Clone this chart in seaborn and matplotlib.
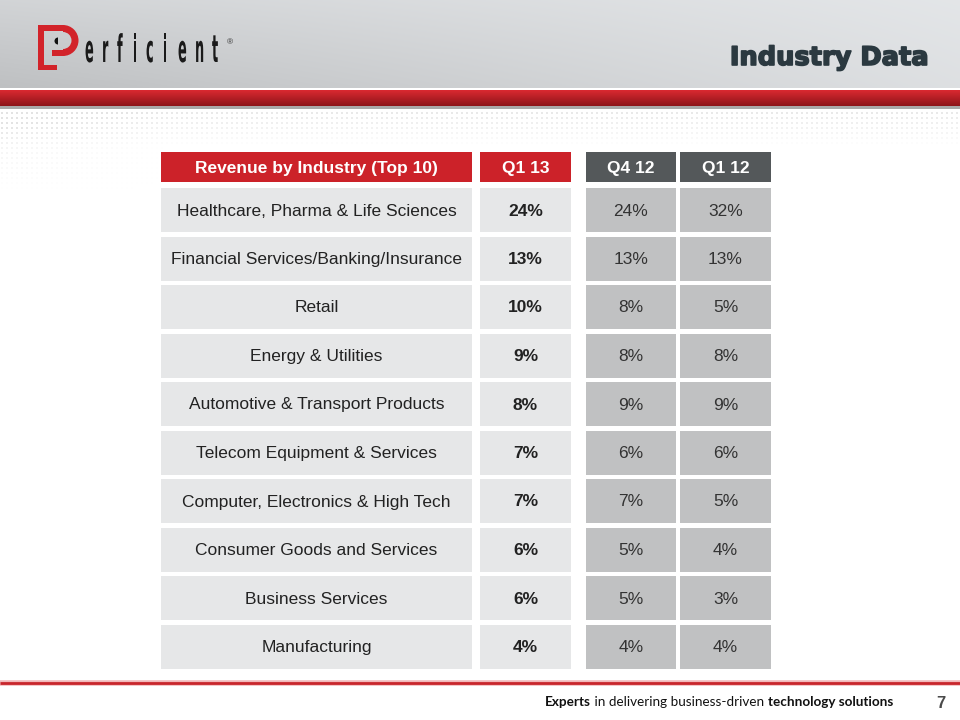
import numpy as np
import matplotlib.pyplot as plt
import seaborn as sns
from matplotlib.patches import Rectangle, Wedge, PathPatch
from matplotlib.textpath import TextPath
from matplotlib.font_manager import FontProperties
from matplotlib.transforms import Affine2D
import matplotlib.patheffects as pe

sns.set_theme(style="white")
plt.rcParams['font.family'] = ['Liberation Sans', 'DejaVu Sans']

# ---- data ----
industries = [
    "Healthcare, Pharma & Life Sciences",
    "Financial Services/Banking/Insurance",
    "Retail",
    "Energy & Utilities",
    "Automotive & Transport Products",
    "Telecom Equipment & Services",
    "Computer, Electronics & High Tech",
    "Consumer Goods and Services",
    "Business Services",
    "Manufacturing",
]
q1_13 = [24, 13, 10, 9, 8, 7, 7, 6, 6, 4]
q4_12 = [24, 13, 8, 8, 9, 6, 7, 5, 5, 4]
q1_12 = [32, 13, 5, 8, 9, 6, 5, 4, 3, 4]
col_headers = ["Revenue by Industry (Top 10)", "Q1 13", "Q4 12", "Q1 12"]

RED = "#cc2229"
DARK = "#54585a"
LIGHT = "#e6e7e8"
MID = "#c0c1c2"

fig = plt.figure(figsize=(9.6, 7.2), dpi=100)
ax = fig.add_axes([0, 0, 1, 1])
ax.set_xlim(0, 960)
ax.set_ylim(720, 0)
ax.axis('off')

# ---- slide header ----
yy, xx = np.mgrid[0:88, 0:960]
v = 0.84 + 0.07 * (xx / 960) - 0.08 * (yy / 88) * (1 - 0.7 * xx / 960)
bg = np.dstack([v * 0.98, v * 0.99, v * 1.0])
ax.imshow(np.clip(bg, 0, 1), extent=(0, 960, 88, 0), aspect='auto', zorder=0)

band = np.linspace(0, 1, 16)[:, None]
top_c = np.array([0.85, 0.16, 0.19])
bot_c = np.array([0.56, 0.08, 0.10])
red_band = (top_c[None, None, :] * (1 - band[..., None]) + bot_c[None, None, :] * band[..., None])
red_band = np.repeat(red_band, 2, axis=1)
ax.imshow(red_band, extent=(0, 960, 106, 90), aspect='auto', zorder=1)
ax.add_patch(Rectangle((0, 106), 960, 3, color="#a9a9a9", lw=0, zorder=1))

# dotted texture under the band
dx, dy = np.meshgrid(np.arange(2, 960, 5), np.arange(113, 190, 5))
alpha = np.clip(1 - (dy - 112) / 35, 0, 1) * 0.8 + np.clip(1 - dx / 170, 0, 1) * np.clip(1 - (dy - 112) / 80, 0, 1) * 0.6
rgba = np.zeros((dx.size, 4))
rgba[:, :3] = 0.68
rgba[:, 3] = np.clip(alpha.ravel(), 0, 1)
ax.scatter(dx.ravel(), dy.ravel(), s=0.9, c=rgba, lw=0, zorder=1)

# logo
ax.add_patch(Rectangle((38, 25), 6, 45, color="#d2232a", lw=0, zorder=3))
ax.add_patch(Rectangle((38, 65), 19, 5, color="#d2232a", lw=0, zorder=3))
ax.add_patch(Rectangle((44, 25), 20, 6, color="#d2232a", lw=0, zorder=3))
ax.add_patch(Rectangle((52, 50), 12, 6, color="#d2232a", lw=0, zorder=3))
ax.add_patch(Wedge((63, 40.5), 15.5, -90, 90, width=7, color="#d2232a", lw=0, zorder=3))
ax.add_patch(Wedge((58, 41), 3.5, 90, 270, color="#111111", lw=0, zorder=3))
logo_font = FontProperties(family='DejaVu Sans', weight='bold')
for ch, lx in zip("erficient", [85, 102, 117, 133, 146, 163, 178, 195, 212]):
    tp = TextPath((0, 0), ch, size=38, prop=logo_font)
    tr = Affine2D().scale(0.34, -1.0).translate(lx, 62)
    ax.add_patch(PathPatch(tr.transform_path(tp), color="#1a1a1a", lw=0, zorder=3))
ax.text(230, 43, "®", fontsize=6, color="#333333", ha='center', va='center', zorder=3)

ax.text(929, 58, "Industry Data", fontsize=18.5, fontweight='heavy', color="#2b3940",
        family='DejaVu Sans', ha='right', va='center', zorder=3,
        path_effects=[pe.withStroke(linewidth=1.2, foreground="#2b3940")])

# ---- table ----
col_left = [161, 480, 586, 680]
col_width = [311, 91, 90, 91]
head_top, head_h = 152, 30
row_top0, row_pitch, row_h = 188, 48.5, 44
row_centers = row_top0 + row_h / 2 + np.arange(len(industries)) * row_pitch
head_colors = [RED, RED, DARK, DARK]
body_colors = [LIGHT, LIGHT, MID, MID]

for j, header in enumerate(col_headers):
    ax.barh(head_top + head_h / 2, col_width[j], left=col_left[j], height=head_h,
            color=head_colors[j], lw=0, zorder=2)
    ax.text(col_left[j] + col_width[j] / 2, head_top + head_h / 2 + 1, header,
            color="white", fontsize=12.5, fontweight='bold', ha='center', va='center', zorder=3)
    ax.barh(row_centers, col_width[j], left=col_left[j], height=row_h,
            color=body_colors[j], lw=0, zorder=2)

columns = [q1_13, q4_12, q1_12]
for i, name in enumerate(industries):
    y = row_centers[i] + 1
    ax.text(col_left[0] + col_width[0] / 2, y, name, fontsize=12.5, color="#222222",
            ha='center', va='center', zorder=3)
    for j, vals in enumerate(columns, start=1):
        ax.text(col_left[j] + col_width[j] / 2, y, f"{vals[i]}%", fontsize=12.5,
                fontweight='bold' if j == 1 else 'normal',
                color="#222222" if j == 1 else "#333333",
                ha='center', va='center', zorder=3)

# ---- footer ----
ax.plot([0, 960], [683, 683], color="#f2b8ba", lw=4, solid_capstyle='butt', zorder=2)
ax.plot([0, 960], [683, 683], color="#c8262c", lw=2, solid_capstyle='butt', zorder=3)

pieces = [("Experts", 'bold'), (" in delivering business-driven ", 'normal'),
          ("technology solutions", 'bold')]
prev = ax.text(545, 706, pieces[0][0], fontsize=9.75, fontweight=pieces[0][1],
               family='Lato', color="#111111", va='baseline', ha='left', zorder=3)
for txt, wt in pieces[1:]:
    prev = ax.annotate(txt, xy=(1, 0), xycoords=prev, fontsize=9.75, fontweight=wt,
                       family='Lato', color="#111111", va='bottom', ha='left', zorder=3)
ax.text(941, 704, "7", fontsize=12, fontweight='bold', color="#4a4a4a",
        ha='center', va='center', zorder=3)

fig.savefig("out.png", dpi=100, facecolor="white")
